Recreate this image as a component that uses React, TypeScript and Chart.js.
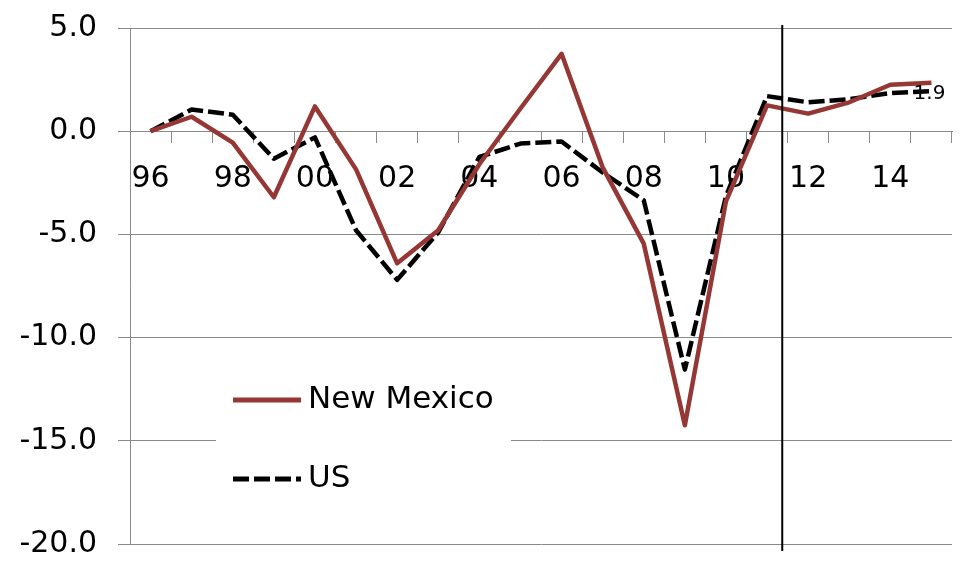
import React, { useEffect, useRef } from 'react';
import { Chart, registerables } from 'chart.js';

Chart.register(...registerables);

// ---- Data ----
const categories = ['1996', '1997', '1998', '1999', '2000', '2001', '2002', '2003', '2004', '2005',
  '2006', '2007', '2008', '2009', '2010', '2011', '2012', '2013', '2014', '2015'];
const tickLabels = ['96', '', '98', '', '00', '', '02', '', '04', '', '06', '', '08', '', '10', '', '12', '', '14', ''];
const newMexico = [0, 0.7, -0.55, -3.2, 1.2, -1.85, -6.4, -4.8, -1.6, 1.1,
  3.75, -1.75, -5.45, -14.25, -3.4, 1.25, 0.85, 1.4, 2.25, 2.35];
const us = [0, 1.05, 0.8, -1.33, -0.3, -4.8, -7.2, -4.9, -1.25, -0.6,
  -0.5, -2.0, -3.35, -11.55, -3.15, 1.7, 1.4, 1.55, 1.85, 1.94];
const yMin = -20;
const yMax = 5;
const yStep = 5;
const dividerIndex = 15.37; // between 2011 and 2012
const labelIndex = 19; // data label on last US point

const FONT = 'DejaVu Sans';
const GRID = '#8a8a8a';
const RED = '#953735';

const legendPlugin = {
  id: 'customLegend',
  afterDraw(chart: any) {
    const ctx = chart.ctx;
    ctx.save();
    ctx.fillStyle = '#ffffff';
    ctx.fillRect(216, 365, 295, 150);
    const items = chart.data.datasets;
    const rows = [400, 479];
    items.forEach((ds: any, i: number) => {
      const y = rows[i];
      ctx.beginPath();
      ctx.strokeStyle = ds.borderColor;
      ctx.lineWidth = 5;
      ctx.setLineDash(ds.borderDash || []);
      ctx.lineCap = 'butt';
      ctx.moveTo(233, y);
      ctx.lineTo(301, y);
      ctx.stroke();
      ctx.setLineDash([]);
      ctx.fillStyle = '#000';
      ctx.font = `31px "${FONT}"`;
      ctx.textAlign = 'left';
      ctx.textBaseline = 'middle';
      ctx.fillText(ds.label, 308, y);
    });
    ctx.restore();
  },
};

const extrasPlugin = {
  id: 'extras',
  afterDatasetsDraw(chart: any) {
    const ctx = chart.ctx;
    const xs = chart.scales.x;
    const ys = chart.scales.y;
    const area = chart.chartArea;
    // divider
    const a = xs.getPixelForValue(Math.floor(dividerIndex));
    const b = xs.getPixelForValue(Math.floor(dividerIndex) + 1);
    const dx = a + (b - a) * (dividerIndex - Math.floor(dividerIndex));
    ctx.save();
    ctx.beginPath();
    ctx.strokeStyle = '#000';
    ctx.lineWidth = 2;
    ctx.moveTo(dx, area.top - 3);
    ctx.lineTo(dx, area.bottom + 7);
    ctx.stroke();
    // data label
    const px = xs.getPixelForValue(labelIndex);
    const py = ys.getPixelForValue(us[labelIndex]);
    ctx.fillStyle = '#000';
    ctx.font = `20px "${FONT}"`;
    ctx.textAlign = 'center';
    ctx.textBaseline = 'middle';
    ctx.fillText(us[labelIndex].toFixed(1), px - 2, py + 3);
    ctx.restore();
  },
};

export default function App() {
  const ref = useRef<HTMLCanvasElement>(null);
  useEffect(() => {
    if (!ref.current) return;
    const chart = new Chart(ref.current, {
      type: 'line',
      data: {
        labels: categories,
        datasets: [
          {
            label: 'New Mexico',
            data: newMexico,
            borderColor: RED,
            backgroundColor: RED,
            borderWidth: 4.5,
            pointRadius: 0,
            tension: 0,
            borderJoinStyle: 'round',
            fill: false,
          },
          {
            label: 'US',
            data: us,
            borderColor: '#000000',
            backgroundColor: '#000000',
            borderWidth: 4.5,
            borderDash: [16, 5],
            pointRadius: 0,
            tension: 0,
            borderJoinStyle: 'round',
            fill: false,
          },
        ],
      },
      options: {
        responsive: false,
        animation: false,
        layout: { padding: { left: 0, right: 9, top: 28, bottom: 19 } },
        plugins: {
          legend: { display: false },
          tooltip: { enabled: false },
        },
        scales: {
          x: {
            type: 'category',
            position: { y: 0 },
            offset: true,
            grid: {
              offset: true,
              drawOnChartArea: false,
              drawTicks: true,
              tickLength: 11,
              color: GRID,
              lineWidth: 1,
            },
            border: { display: true, color: GRID, width: 1 },
            ticks: {
              autoSkip: false,
              maxRotation: 0,
              minRotation: 0,
              padding: 19,
              color: '#000',
              font: { family: FONT, size: 30 },
              callback: (_v: any, i: number) => tickLabels[i],
            },
            afterFit: (s: any) => { s.paddingLeft = 0; s.paddingRight = 0; },
          },
          y: {
            min: yMin,
            max: yMax,
            grid: { color: GRID, lineWidth: 1, tickLength: 12, drawTicks: true },
            border: { display: true, color: GRID, width: 1 },
            ticks: {
              stepSize: yStep,
              padding: 21,
              color: '#000',
              font: { family: FONT, size: 30 },
              callback: (v: any) => Number(v).toFixed(1),
            },
            afterFit: (s: any) => { s.width = 130; s.paddingTop = 0; s.paddingBottom = 0; },
          },
        },
      },
      plugins: [extrasPlugin, legendPlugin],
    } as any);
    return () => chart.destroy();
  }, []);
  return (
    <div style={{ position: 'absolute', left: 0, top: 0, width: 961, height: 563, background: '#fff' }}>
      <canvas ref={ref} width={961} height={563} style={{ width: 961, height: 563, display: 'block' }} />
    </div>
  );
}
